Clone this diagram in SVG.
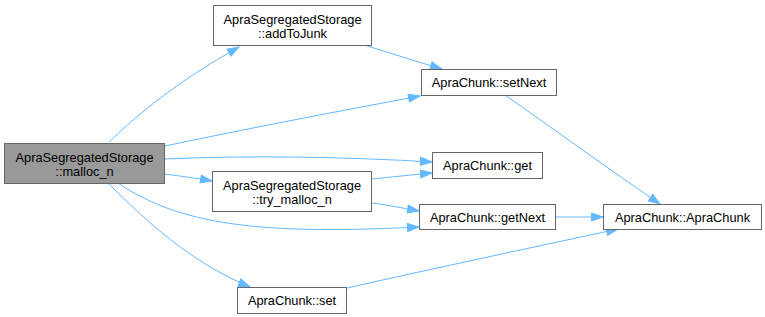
<svg xmlns="http://www.w3.org/2000/svg" width="765" height="317" viewBox="0 0 765 317">
  <style>
    .node rect { fill: #ffffff; stroke: #666666; stroke-width: 1; }
    .node.current rect { fill: #999999; }
    .node text { font-family: "Liberation Sans", Arial, sans-serif; font-size: 12.8px; fill: #000000; text-anchor: middle; }
    .edge { fill: none; stroke: #63b8ff; stroke-width: 1; marker-end: url(#arrow); }
  </style>
  <defs>
    <marker id="arrow" markerUnits="userSpaceOnUse" markerWidth="14" markerHeight="11" refX="12.5" refY="5" orient="auto">
      <path d="M1,1 L12.5,5 L1,9 Z" fill="#63b8ff" stroke="#63b8ff" stroke-width="1"/>
    </marker>
  </defs>
  <rect width="765" height="317" fill="#ffffff"/>

  <g id="edges">
    <!-- malloc_n -> addToJunk -->
    <path class="edge" d="M109,142 C140,112 180,80 239,47"/>
    <!-- malloc_n -> setNext -->
    <path class="edge" d="M165,146 C250,128 340,111 420,96"/>
    <!-- malloc_n -> get -->
    <path class="edge" d="M165,159 C250,155 350,157 432,162"/>
    <!-- malloc_n -> try_malloc_n -->
    <path class="edge" d="M165,174 C180,176 195,178 212,181"/>
    <!-- malloc_n -> getNext -->
    <path class="edge" d="M118,183 C180,225 260,235 419,227"/>
    <!-- malloc_n -> set -->
    <path class="edge" d="M108,183 C145,220 190,262 250,287"/>
    <!-- addToJunk -> setNext -->
    <path class="edge" d="M364,45 C390,53 415,61 442,69"/>
    <!-- setNext -> ApraChunk -->
    <path class="edge" d="M505,95 C555,130 610,170 660,204"/>
    <!-- try_malloc_n -> get -->
    <path class="edge" d="M372,179 C392,177 410,175 432,173"/>
    <!-- try_malloc_n -> getNext -->
    <path class="edge" d="M372,203 C388,205 402,208 419,211"/>
    <!-- getNext -> ApraChunk -->
    <path class="edge" d="M556,217 L603,217"/>
    <!-- set -> ApraChunk -->
    <path class="edge" d="M347,288 C440,267 530,248 618,229"/>
  </g>

  <g id="node-malloc_n" class="node current">
    <rect x="4.5" y="143.5" width="160" height="40"/>
    <text x="84.5" y="162">ApraSegregatedStorage</text>
    <text x="84.5" y="176">::malloc_n</text>
  </g>

  <g id="node-addToJunk" class="node">
    <rect x="213.5" y="5.5" width="158" height="40"/>
    <text x="292.5" y="24">ApraSegregatedStorage</text>
    <text x="292.5" y="38">::addToJunk</text>
  </g>

  <g id="node-setNext" class="node">
    <rect x="421.5" y="69.5" width="135" height="26"/>
    <text x="489" y="87">ApraChunk::setNext</text>
  </g>

  <g id="node-get" class="node">
    <rect x="432.5" y="152.5" width="110" height="26"/>
    <text x="487.5" y="170">ApraChunk::get</text>
  </g>

  <g id="node-try_malloc_n" class="node">
    <rect x="212.5" y="171.5" width="159" height="40"/>
    <text x="292" y="190">ApraSegregatedStorage</text>
    <text x="292" y="204">::try_malloc_n</text>
  </g>

  <g id="node-getNext" class="node">
    <rect x="419.5" y="204.5" width="136" height="25"/>
    <text x="487.5" y="221.5">ApraChunk::getNext</text>
  </g>

  <g id="node-ApraChunk" class="node">
    <rect x="603.5" y="204.5" width="158" height="25"/>
    <text x="682.5" y="221.5">ApraChunk::ApraChunk</text>
  </g>

  <g id="node-set" class="node">
    <rect x="237.5" y="287.5" width="109" height="26"/>
    <text x="292" y="305">ApraChunk::set</text>
  </g>
</svg>
